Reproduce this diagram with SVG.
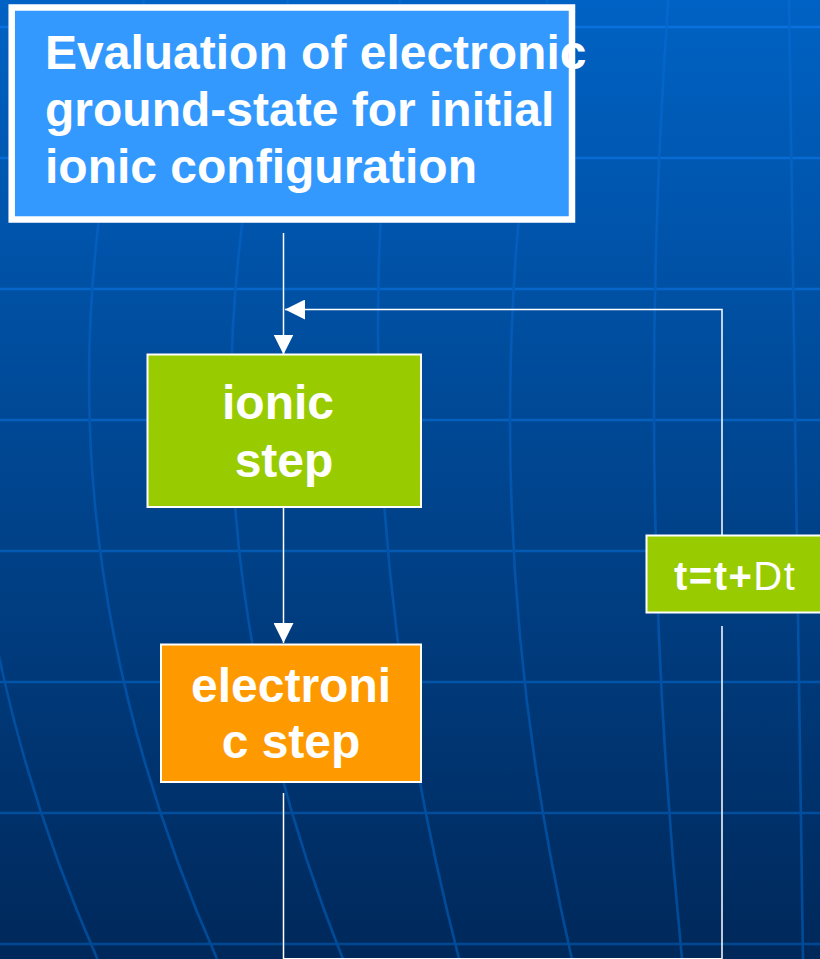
<svg xmlns="http://www.w3.org/2000/svg" width="820" height="959" viewBox="0 0 820 959">
<defs>
<linearGradient id="bg" x1="0" y1="0" x2="0" y2="1">
<stop offset="0" stop-color="#0062C4"/>
<stop offset="1" stop-color="#00285A"/>
</linearGradient>
<linearGradient id="gridc" gradientUnits="userSpaceOnUse" x1="0" y1="0" x2="0" y2="959">
<stop offset="0" stop-color="#0A72E0"/>
<stop offset="1" stop-color="#004892"/>
</linearGradient>
<linearGradient id="gridv" gradientUnits="userSpaceOnUse" x1="0" y1="0" x2="0" y2="959">
<stop offset="0" stop-color="#0468CE"/>
<stop offset="0.45" stop-color="#0456B0"/>
<stop offset="1" stop-color="#004A96"/>
</linearGradient>
<marker id="arr" viewBox="0 0 20 20" refX="20" refY="10" markerWidth="20" markerHeight="20" markerUnits="userSpaceOnUse" orient="auto">
<path d="M0,0 L20,10 L0,20 Z" fill="#FFFFFF"/>
</marker>
<style>
.grid{fill:none;stroke:url(#gridc);stroke-width:2.6}
.gv{fill:none;stroke:url(#gridv);stroke-width:2.6}
.box{stroke:#FFFFFF;stroke-width:2}
.t{font-family:"Liberation Sans",Arial,Helvetica,sans-serif;fill:#FFFFFF;font-weight:bold}
.big{font-size:48px}
.mid{text-anchor:middle}
.conn{fill:none;stroke:#FFFFFF;stroke-width:1.5}
</style>
</defs>
<rect x="0" y="0" width="820" height="959" fill="url(#bg)"/>
<g id="background-grid">
<path class="grid" d="M0,27 H820 M0,158 H820 M0,289 H820 M0,420 H820 M0,551 H820 M0,682 H820 M0,813 H820 M0,944 H820"/>
<path class="gv" d="M-11.6,600 Q18.4,779.5 97.4,959"/>
<path class="gv" d="M144.2,0 Q5,479.5 217,959"/>
<path class="gv" d="M288.3,0 Q151,479.5 342.9,959"/>
<path class="gv" d="M400.3,0 Q335.4,479.5 459.1,959"/>
<path class="gv" d="M547.6,0 Q461.8,479.5 571.9,959"/>
<path class="gv" d="M668.3,0 Q633.9,479.5 682,959"/>
<path class="gv" d="M789,0 L803,959"/>
</g>
<g id="connectors">
<path class="conn" d="M283.5,233 V354.5" marker-end="url(#arr)"/>
<path class="conn" d="M283.5,507 V643" marker-end="url(#arr)"/>
<path class="conn" d="M283.5,793 V958.8 H722 V626"/>
<path class="conn" d="M722,535 V309.5 H285" marker-end="url(#arr)"/>
</g>
<g id="node-init">
<rect x="11.7" y="7.5" width="560.3" height="212" fill="#3399FF" stroke="#FFFFFF" stroke-width="6.5"/>
<text class="t big" x="45" y="69">Evaluation of electronic</text>
<text class="t big" x="45" y="126">ground-state for initial</text>
<text class="t big" x="45" y="183">ionic configuration</text>
</g>
<g id="node-ionic">
<rect class="box" x="147.5" y="354.5" width="273.5" height="152.5" fill="#99CC00"/>
<text class="t big mid" x="278" y="419">ionic</text>
<text class="t big mid" x="284" y="476.5">step</text>
</g>
<g id="node-electronic">
<rect class="box" x="161" y="644.5" width="260" height="137.5" fill="#FF9900"/>
<text class="t big mid" x="291" y="701.5">electroni</text>
<text class="t big mid" x="291" y="758">c step</text>
</g>
<g id="node-dt">
<rect class="box" x="646.5" y="535.5" width="190" height="77" fill="#99CC00"/>
<text class="t" x="674" y="590" font-size="40" letter-spacing="1.5">t=t+<tspan font-weight="normal">Dt</tspan></text>
</g>
</svg>
